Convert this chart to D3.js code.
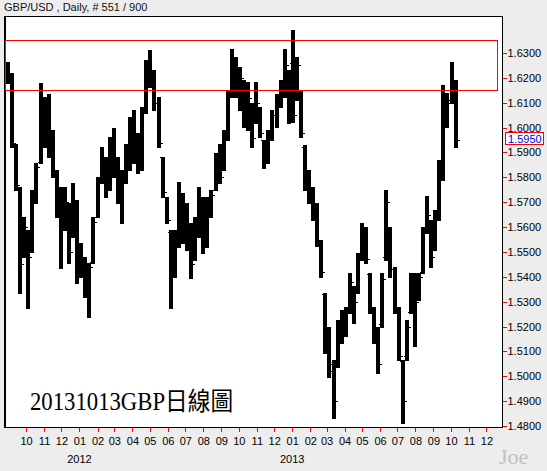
<!DOCTYPE html>
<html><head><meta charset="utf-8">
<script src="https://cdn.jsdelivr.net/npm/d3@7"></script>
<style>
html,body{margin:0;padding:0;background:#ededed;}
svg{display:block;}
</style></head><body>
<svg id="c" width="547" height="471"></svg>
<script>
// ---- data (weekly OHLC) ----
const titleText = "GBP/USD , Daily, # 551 / 900";
const captionText = "20131013GBP日線圖";
const watermarkText = "Joe";
const firstWeek = "2011-08-29";
const highs = [1.6265,1.6218,1.5936,1.5762,1.5642,1.5588,1.5749,1.5856,1.6178,1.6124,
1.6137,1.5990,1.5829,1.5762,1.5762,1.5695,1.5776,1.5709,1.5534,1.5481,
1.5454,1.5642,1.5802,1.5923,1.5883,1.5963,1.5997,1.5883,1.5829,1.5936,
1.6044,1.6070,1.5977,1.6084,1.6271,1.6312,1.6231,1.6124,1.5883,1.5722,
1.5588,1.5588,1.5782,1.5735,1.5695,1.5615,1.5642,1.5762,1.5722,1.5722,
1.5749,1.5896,1.5936,1.5990,1.6151,1.6318,1.6285,1.6245,1.6191,1.6184,
1.6097,1.6184,1.6084,1.5950,1.5990,1.6070,1.6137,1.6191,1.6318,1.6231,
1.6392,1.6285,1.6150,1.5930,1.5830,1.5763,1.5696,1.5548,1.5334,1.5200,
1.5066,1.5227,1.5267,1.5280,1.5414,1.5361,1.5495,1.5615,1.5602,1.5414,
1.5280,1.5200,1.5414,1.5749,1.5602,1.5441,1.5280,1.5066,1.5227,1.5414,
1.5414,1.5414,1.5602,1.5723,1.5629,1.5669,1.5870,1.6172,1.6138,1.6265,
1.6192];
const lows = [1.6178,1.5923,1.5749,1.5333,1.5481,1.5273,1.5500,1.5695,1.5856,1.5923,
1.5883,1.5802,1.5642,1.5434,1.5588,1.5454,1.5561,1.5374,1.5400,1.5320,
1.5240,1.5454,1.5642,1.5776,1.5722,1.5749,1.5802,1.5695,1.5615,1.5776,
1.5829,1.5856,1.5816,1.5829,1.6057,1.6164,1.6070,1.5923,1.5722,1.5615,
1.5273,1.5400,1.5521,1.5534,1.5508,1.5394,1.5467,1.5561,1.5494,1.5521,
1.5642,1.5749,1.5776,1.5829,1.5950,1.6124,1.6124,1.6070,1.6003,1.5990,
1.5923,1.6017,1.5963,1.5836,1.5856,1.5950,1.6003,1.6084,1.6124,1.6017,
1.6023,1.6111,1.5963,1.5750,1.5696,1.5629,1.5522,1.5401,1.5093,1.4999,
1.4832,1.5039,1.5133,1.5160,1.5254,1.5213,1.5334,1.5468,1.5455,1.5254,
1.5133,1.5012,1.5200,1.5468,1.5401,1.5254,1.5066,1.4812,1.5066,1.5254,
1.5120,1.5307,1.5414,1.5575,1.5441,1.5508,1.5629,1.5790,1.6004,1.6100,
1.5920];
const opens = [1.6240,1.6200,1.5930,1.5760,1.5500,1.5580,1.5520,1.5720,1.5860,1.6100,
1.6000,1.5950,1.5820,1.5700,1.5600,1.5690,1.5570,1.5700,1.5460,1.5420,
1.5350,1.5460,1.5640,1.5790,1.5870,1.5760,1.5900,1.5830,1.5720,1.5800,
1.5900,1.6000,1.5900,1.5850,1.6060,1.6250,1.6200,1.6100,1.5880,1.5720,
1.5580,1.5420,1.5560,1.5700,1.5600,1.5540,1.5470,1.5620,1.5700,1.5560,
1.5680,1.5750,1.5870,1.5830,1.5960,1.6130,1.6250,1.6150,1.6190,1.6050,
1.6090,1.6020,1.6080,1.5950,1.5880,1.5960,1.6050,1.6110,1.6150,1.6230,
1.6260,1.6120,1.6150,1.5920,1.5780,1.5720,1.5660,1.5540,1.5330,1.5150,
1.5050,1.5050,1.5200,1.5180,1.5260,1.5340,1.5340,1.5480,1.5560,1.5410,
1.5280,1.5150,1.5210,1.5480,1.5600,1.5430,1.5270,1.5060,1.5080,1.5260,
1.5380,1.5310,1.5420,1.5580,1.5620,1.5510,1.5640,1.5800,1.6030,1.6110,
1.6100];
const closes = [1.6200,1.5940,1.5770,1.5450,1.5600,1.5480,1.5720,1.5840,1.6100,1.6000,
1.5950,1.5820,1.5700,1.5600,1.5700,1.5500,1.5700,1.5460,1.5420,1.5350,
1.5440,1.5620,1.5780,1.5880,1.5760,1.5900,1.5830,1.5720,1.5800,1.5900,
1.6000,1.5900,1.5850,1.6060,1.6250,1.6200,1.6100,1.5940,1.5740,1.5630,
1.5400,1.5560,1.5700,1.5600,1.5540,1.5450,1.5620,1.5700,1.5560,1.5680,
1.5730,1.5870,1.5800,1.5960,1.6130,1.6250,1.6150,1.6200,1.6050,1.6120,
1.5960,1.6100,1.5980,1.5880,1.5960,1.6050,1.6120,1.6150,1.6250,1.6150,
1.6050,1.6250,1.5980,1.5780,1.5720,1.5660,1.5540,1.5420,1.5100,1.5020,
1.4900,1.5200,1.5180,1.5260,1.5380,1.5300,1.5470,1.5560,1.5470,1.5280,
1.5150,1.5050,1.5390,1.5700,1.5430,1.5270,1.5080,1.4900,1.5200,1.5380,
1.5300,1.5400,1.5580,1.5650,1.5480,1.5640,1.5850,1.6040,1.6100,1.6180,
1.5950];
const yTickValues = [1.48,1.49,1.50,1.51,1.52,1.53,1.54,1.55,1.56,1.57,1.58,1.59,1.60,1.61,1.62,1.63];
const lastPrice = 1.5950;
const zoneLow = 1.6150, zoneHigh = 1.6350;
const monthTickFirst = "2011-10-01", monthTickLast = "2013-12-01";
const yearLabels = ["2012", "2013"];

// ---- chart ----
const parse = d3.timeParse("%Y-%m-%d");
const svg = d3.select("#c");
const W = 547, H = 471;
const L = 4.5, R = 502.5, T = 16.5, B = 427.5;

const x = d3.scaleTime()
  .domain([new Date(2011, 7, 25), new Date(2013, 11, 27)])
  .range([4.5, 501.5]);
const y = d3.scaleLinear().domain([1.48, 1.63]).range([426, 53]);

svg.append("rect").attr("width", W).attr("height", H).attr("fill", "#ededed");

svg.append("text").attr("x", 4).attr("y", 10.5)
  .attr("font-family", "'Liberation Sans', Arial, sans-serif").attr("font-size", 11)
  .attr("fill", "#111").text(titleText);

svg.append("rect").attr("x", L).attr("y", T).attr("width", R - L).attr("height", B - T)
  .attr("fill", "#fff").attr("stroke", "#000").attr("stroke-width", 1)
  .attr("shape-rendering", "crispEdges");
svg.append("line").attr("x1", 5.5).attr("x2", 5.5).attr("y1", T).attr("y2", B)
  .attr("stroke", "#000").attr("shape-rendering", "crispEdges");

const start = parse(firstWeek);
const bars = highs.map((h, i) => ({
  date: d3.timeDay.offset(start, 7 * i + 2),
  h, l: lows[i], o: opens[i], c: closes[i]
}));

const g = svg.append("g").attr("shape-rendering", "crispEdges").attr("fill", "#000");
g.selectAll("rect.hl").data(bars).join("rect").attr("class", "hl")
  .attr("x", d => Math.round(x(d.date)) - 2).attr("width", 4)
  .attr("y", d => Math.round(y(d.h))).attr("height", d => Math.round(y(d.l)) - Math.round(y(d.h)) + 1);
g.selectAll("rect.op").data(bars).join("rect").attr("class", "op")
  .attr("x", d => Math.round(x(d.date)) - 3).attr("width", 1)
  .attr("y", d => Math.round(y(d.o))).attr("height", 1);
g.selectAll("rect.cl").data(bars).join("rect").attr("class", "cl")
  .attr("x", d => Math.round(x(d.date)) + 2).attr("width", 2)
  .attr("y", d => Math.round(y(d.c))).attr("height", 1);

// red zone
const zt = Math.floor(y(zoneHigh)) + 0.5, zb = Math.floor(y(zoneLow)) + 0.5;
const zg = svg.append("g").attr("stroke", "#ff0000").attr("stroke-width", 1).attr("shape-rendering", "crispEdges");
[[5, zt, 498, zt], [5, zb, 498, zb], [497.5, zt, 497.5, zb], [5.5, zt, 5.5, zb]].forEach(s =>
  zg.append("line").attr("x1", s[0]).attr("y1", s[1]).attr("x2", s[2]).attr("y2", s[3]));

// y axis (right)
const yAxis = d3.axisRight(y).tickValues(yTickValues).tickFormat(d3.format(".4f"))
  .tickSize(4).tickPadding(1);
const ya = svg.append("g").attr("transform", `translate(${R},0)`).call(yAxis);
ya.select(".domain").remove();
ya.selectAll(".tick line").attr("stroke", "#ff0000").attr("shape-rendering", "crispEdges");
ya.selectAll(".tick text").attr("font-family", "'Liberation Sans', Arial, sans-serif")
  .attr("font-size", 11).attr("fill", "#000");

// last price box
const ly = y(lastPrice);
svg.append("rect").attr("x", 505.5).attr("y", Math.round(ly) - 7.5).attr("width", 38).attr("height", 12)
  .attr("fill", "#fff").attr("stroke", "#ff0000").attr("shape-rendering", "crispEdges");
svg.append("text").attr("x", 508).attr("y", ly - 1).attr("dy", "0.35em")
  .attr("font-family", "'Liberation Sans', Arial, sans-serif").attr("font-size", 11)
  .attr("fill", "#0000ff").text(d3.format(".4f")(lastPrice));

// x axis
const months = d3.timeMonth.range(parse(monthTickFirst), d3.timeDay.offset(parse(monthTickLast), 1));
const xAxis = d3.axisBottom(x).tickValues(months).tickFormat(d3.timeFormat("%m"))
  .tickSize(4).tickPadding(6);
const xa = svg.append("g").attr("transform", `translate(0,${B})`).call(xAxis);
xa.select(".domain").remove();
xa.selectAll(".tick line").attr("stroke", "#ff0000").attr("shape-rendering", "crispEdges");
xa.selectAll(".tick text").attr("font-family", "'Liberation Sans', Arial, sans-serif")
  .attr("font-size", 11).attr("fill", "#000");

svg.selectAll("text.year").data(yearLabels).join("text").attr("class", "year")
  .attr("x", d => x(new Date(+d, 0, 1))).attr("y", 463).attr("text-anchor", "middle")
  .attr("font-family", "'Liberation Sans', Arial, sans-serif").attr("font-size", 11)
  .attr("fill", "#000").text(d => d);

// caption
svg.append("text").attr("transform", "translate(30,409.5) scale(1.01,1.12)")
  .attr("font-family", "'Liberation Serif', 'Noto Sans CJK TC', serif").attr("font-size", 22.5)
  .attr("fill", "#000").text(captionText);

// watermark
svg.append("text").attr("x", 499).attr("y", 463.5)
  .attr("font-family", "'Liberation Serif', serif").attr("font-size", 22)
  .attr("fill", "#c0c0c0").text(watermarkText);
</script>
</body></html>
